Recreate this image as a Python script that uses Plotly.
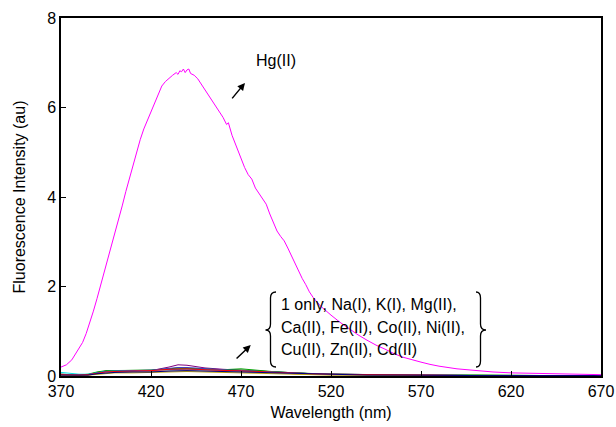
import plotly.graph_objects as go

# ---------------- data ----------------
hg_wavelength = [370, 373, 376, 378, 380, 382, 384, 386, 388, 390, 392, 394, 396, 398, 400,
                 402, 404, 406, 408, 410, 412, 414, 416, 418, 420, 422, 424, 426, 428, 430,
                 432, 434, 435, 436, 437, 438, 439, 440, 441, 442, 444, 446, 448, 450, 452,
                 454, 456, 458, 460, 462, 463, 465, 468, 470, 472, 474, 476, 478, 480, 482,
                 484, 486, 488, 490, 492, 494, 496, 498, 500, 502, 504, 506, 508, 510, 512,
                 514, 516, 518, 520, 525, 530, 535, 540, 545, 550, 555, 560, 565, 570, 575,
                 580, 590, 600, 610, 620, 630, 640, 650, 660, 670]
hg_intensity = [0.20, 0.25, 0.36, 0.48, 0.60, 0.75, 0.95, 1.18, 1.45, 1.73, 2.02, 2.33, 2.60, 2.90, 3.20,
                3.48, 3.80, 4.12, 4.42, 4.72, 5.02, 5.28, 5.52, 5.72, 5.92, 6.12, 6.30, 6.48, 6.58, 6.66,
                6.72, 6.78, 6.74, 6.82, 6.80, 6.86, 6.78, 6.84, 6.86, 6.76, 6.72, 6.64, 6.52, 6.40, 6.28,
                6.14, 6.02, 5.92, 5.78, 5.62, 5.66, 5.38, 5.08, 4.84, 4.66, 4.50, 4.40, 4.20, 4.08, 3.96,
                3.84, 3.62, 3.42, 3.24, 3.12, 3.02, 2.86, 2.68, 2.52, 2.34, 2.18, 2.04, 1.88, 1.76, 1.66,
                1.57, 1.50, 1.44, 1.36, 1.20, 1.05, 0.92, 0.80, 0.69, 0.60, 0.50, 0.42, 0.36, 0.31, 0.26,
                0.22, 0.16, 0.12, 0.09, 0.07, 0.06, 0.05, 0.04, 0.04, 0.03]

base_wavelength = [370, 375, 380, 385, 390, 395, 400, 410, 420, 430, 435, 440, 450, 460,
                   470, 480, 490, 500, 510, 520, 540, 560, 580, 600, 620, 640, 670]

only_1 = [0.04, 0.03, 0.02, 0.03, 0.07, 0.10, 0.11, 0.11, 0.12, 0.20, 0.25, 0.24, 0.18, 0.15,
          0.13, 0.10, 0.08, 0.06, 0.05, 0.04, 0.03, 0.02, 0.02, 0.01, 0.01, 0.01, 0.01]
na_I = [0.03, 0.03, 0.02, 0.03, 0.08, 0.11, 0.12, 0.12, 0.13, 0.16, 0.18, 0.17, 0.15, 0.14,
        0.13, 0.11, 0.08, 0.06, 0.05, 0.04, 0.03, 0.02, 0.02, 0.02, 0.01, 0.01, 0.01]
k_I = [0.04, 0.03, 0.02, 0.04, 0.09, 0.12, 0.12, 0.12, 0.13, 0.15, 0.16, 0.17, 0.15, 0.14,
       0.16, 0.12, 0.09, 0.07, 0.05, 0.04, 0.03, 0.02, 0.02, 0.02, 0.01, 0.01, 0.01]
mg_II = [0.08, 0.06, 0.04, 0.04, 0.07, 0.10, 0.11, 0.11, 0.12, 0.14, 0.15, 0.15, 0.14, 0.13,
         0.12, 0.10, 0.08, 0.06, 0.05, 0.04, 0.03, 0.02, 0.02, 0.01, 0.01, 0.01, 0.01]
ca_II = [0.03, 0.02, 0.02, 0.03, 0.06, 0.09, 0.10, 0.10, 0.11, 0.13, 0.14, 0.14, 0.13, 0.12,
         0.11, 0.09, 0.07, 0.06, 0.04, 0.03, 0.03, 0.02, 0.01, 0.01, 0.01, 0.01, 0.01]
fe_II = [0.02, 0.02, 0.01, 0.02, 0.05, 0.08, 0.09, 0.09, 0.10, 0.12, 0.13, 0.13, 0.12, 0.11,
         0.10, 0.08, 0.07, 0.05, 0.04, 0.03, 0.02, 0.02, 0.01, 0.01, 0.01, 0.01, 0.01]
co_II = [0.03, 0.02, 0.02, 0.03, 0.07, 0.10, 0.11, 0.12, 0.13, 0.17, 0.19, 0.19, 0.16, 0.14,
         0.12, 0.10, 0.08, 0.06, 0.05, 0.04, 0.03, 0.02, 0.02, 0.01, 0.01, 0.01, 0.01]
ni_II = [0.02, 0.02, 0.01, 0.02, 0.05, 0.08, 0.09, 0.10, 0.10, 0.12, 0.13, 0.13, 0.12, 0.11,
         0.10, 0.09, 0.07, 0.05, 0.04, 0.03, 0.02, 0.02, 0.01, 0.01, 0.01, 0.01, 0.01]
cu_II = [0.02, 0.01, 0.01, 0.02, 0.04, 0.06, 0.07, 0.07, 0.08, 0.09, 0.10, 0.10, 0.09, 0.08,
         0.08, 0.07, 0.05, 0.04, 0.03, 0.02, 0.02, 0.01, 0.01, 0.01, 0.01, 0.01, 0.01]
zn_II = [0.03, 0.02, 0.02, 0.03, 0.06, 0.09, 0.10, 0.11, 0.12, 0.15, 0.16, 0.16, 0.14, 0.13,
         0.12, 0.10, 0.08, 0.06, 0.05, 0.04, 0.03, 0.02, 0.02, 0.01, 0.01, 0.01, 0.01]
cd_II = [0.02, 0.02, 0.01, 0.02, 0.05, 0.07, 0.08, 0.09, 0.09, 0.11, 0.12, 0.12, 0.11, 0.10,
         0.09, 0.08, 0.06, 0.05, 0.04, 0.03, 0.02, 0.02, 0.01, 0.01, 0.01, 0.01, 0.01]

base_series = [
    ("1 only", only_1, "#800080"),
    ("Na(I)", na_I, "#008000"),
    ("K(I)", k_I, "#00A000"),
    ("Mg(II)", mg_II, "#00E0E0"),
    ("Ca(II)", ca_II, "#0000FF"),
    ("Fe(II)", fe_II, "#FF8000"),
    ("Co(II)", co_II, "#4040C0"),
    ("Ni(II)", ni_II, "#C0C0C0"),
    ("Cu(II)", cu_II, "#B8A000"),
    ("Zn(II)", zn_II, "#FF0000"),
    ("Cd(II)", cd_II, "#000080"),
]

x_ticks = [370, 420, 470, 520, 570, 620, 670]
y_ticks = [0, 2, 4, 6, 8]

# ---------------- figure ----------------
FONT = "Liberation Sans, Arial, sans-serif"
fig = go.Figure()

for name, vals, col in base_series:
    fig.add_trace(go.Scatter(x=base_wavelength, y=vals, mode="lines", name=name,
                             line=dict(color=col, width=1)))

fig.add_trace(go.Scatter(x=hg_wavelength, y=hg_intensity, mode="lines", name="Hg(II)",
                         line=dict(color="#FF00FF", width=1)))

W, H = 616, 427
# plot area in pixels
L, R, T, B = 61, 601, 18, 376


def px(xp, yp):
    return (xp - L) / (R - L), (B - yp) / (B - T)


def brace_path(pts):
    parts = []
    for cmd, coords in pts:
        xy = []
        for i in range(0, len(coords), 2):
            a, b = px(coords[i], coords[i + 1])
            xy.append(f"{a:.5f},{b:.5f}")
        parts.append(cmd + " " + " ".join(xy))
    return " ".join(parts)


left_brace = brace_path([
    ("M", [276, 292]),
    ("Q", [270.5, 292, 270.5, 298]),
    ("L", [270.5, 324]),
    ("Q", [270.5, 330, 265.5, 330]),
    ("Q", [270.5, 330, 270.5, 336]),
    ("L", [270.5, 361]),
    ("Q", [270.5, 367, 276, 367]),
])
right_brace = brace_path([
    ("M", [476, 292]),
    ("Q", [480.5, 292, 480.5, 298]),
    ("L", [480.5, 324]),
    ("Q", [480.5, 330, 486, 330]),
    ("Q", [480.5, 330, 480.5, 336]),
    ("L", [480.5, 361]),
    ("Q", [480.5, 367, 476, 367]),
])
for p in (left_brace, right_brace):
    fig.add_shape(type="path", path=p, xref="paper", yref="paper",
                  line=dict(color="black", width=1.3))

# Hg(II) label and arrow
fig.add_annotation(x=489.5, y=7.05, text="Hg(II)", showarrow=False,
                   font=dict(family=FONT, size=16, color="black"))
fig.add_annotation(x=472.2, y=6.55, ax=464.4, ay=6.17, axref="x", ayref="y",
                   xref="x", yref="y", text="", showarrow=True,
                   arrowhead=2, arrowsize=1.0, arrowwidth=1.5, arrowcolor="black")

# other-ions label and arrow
fig.add_annotation(x=475.4, y=0.69, ax=466.7, ay=0.36, axref="x", ayref="y",
                   xref="x", yref="y", text="", showarrow=True,
                   arrowhead=2, arrowsize=1.0, arrowwidth=1.5, arrowcolor="black")
lines = ["1 only, Na(I), K(I), Mg(II),",
         "Ca(II), Fe(II), Co(II), Ni(II),",
         "Cu(II), Zn(II), Cd(II)"]
line_y = [304, 327, 349]
for txt, yp in zip(lines, line_y):
    xa, ya = px(279, yp)
    fig.add_annotation(x=xa, y=ya, xref="paper", yref="paper", text=txt,
                       showarrow=False, xanchor="left", yanchor="middle",
                       font=dict(family=FONT, size=16, color="black"))

fig.update_layout(
    width=W, height=H,
    margin=dict(l=L, r=W - R, t=T, b=H - B, autoexpand=False),
    paper_bgcolor="white", plot_bgcolor="white",
    showlegend=False,
    font=dict(family=FONT, size=16, color="black"),
)
fig.update_xaxes(range=[370, 670], tickvals=x_ticks, ticktext=[str(v) for v in x_ticks],
                 ticks="inside", ticklen=5, tickwidth=1, tickcolor="black",
                 showline=True, linecolor="black", linewidth=1.5, mirror=True,
                 showgrid=False, zeroline=False, automargin=False,
                 title=dict(text="Wavelength (nm)", font=dict(size=16), standoff=8),
                 tickfont=dict(size=16))
fig.update_yaxes(range=[0, 8], tickvals=y_ticks, ticktext=[str(v) for v in y_ticks],
                 ticks="inside", ticklen=5, tickwidth=1, tickcolor="black",
                 showline=True, linecolor="black", linewidth=1.5, mirror=True,
                 showgrid=False, zeroline=False, automargin=False,
                 title=dict(text="Fluorescence Intensity (au)", font=dict(size=16), standoff=18),
                 tickfont=dict(size=16))

fig.write_html("out.html",
               config={"displayModeBar": False},
               post_script="document.body.style.margin='0';document.body.style.overflow='hidden';")
